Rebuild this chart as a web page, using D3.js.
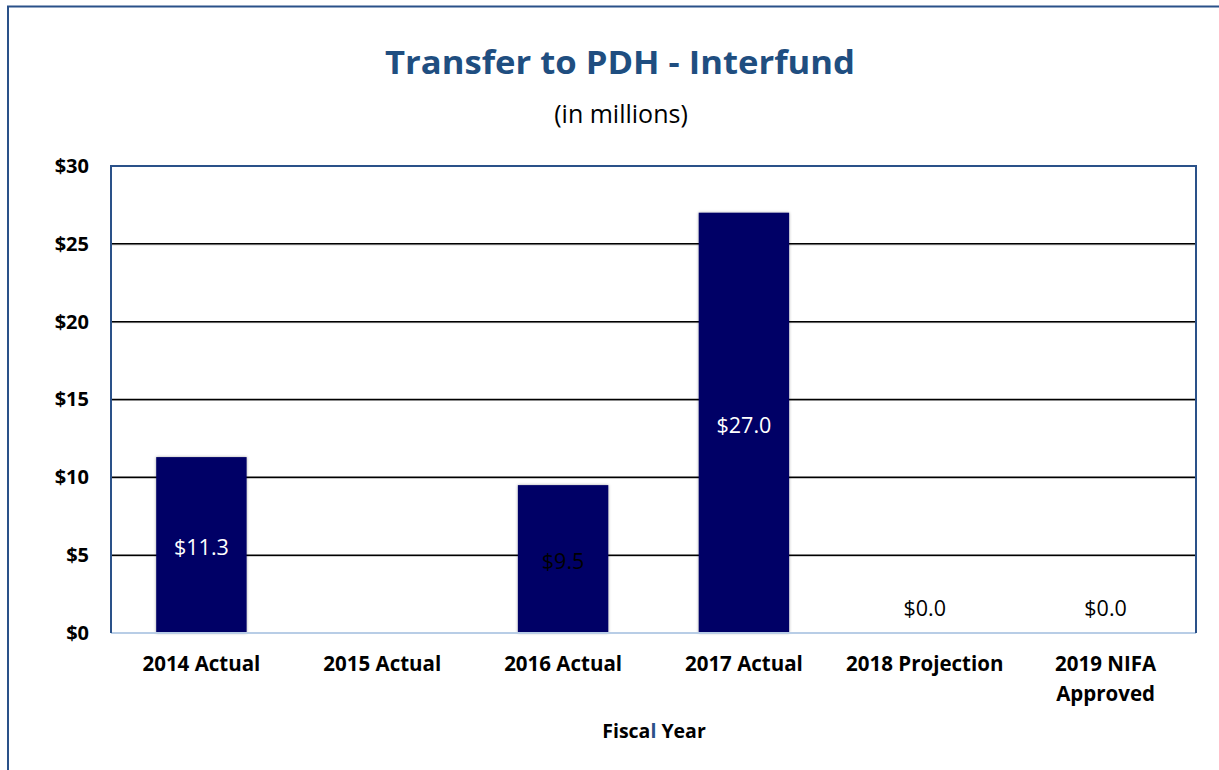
<!DOCTYPE html>
<html>
<head>
<meta charset="utf-8">
<script src="https://cdn.jsdelivr.net/npm/d3@7"></script>
<style>
  html, body { margin: 0; padding: 0; background: #fff; }
  svg { display: block; }
  text { font-family: "Open Sans", "Noto Sans", sans-serif; }
</style>
</head>
<body>
<svg id="chart" width="1219" height="770"></svg>
<script>
const categories = ["2014 Actual", "2015 Actual", "2016 Actual", "2017 Actual", "2018 Projection", "2019 NIFA Approved"];
const values = [11.3, null, 9.5, 27.0, 0.0, 0.0];
const labelColors = ["#ffffff", null, "#000000", "#ffffff", "#000000", "#000000"];
const yTicks = [0, 5, 10, 15, 20, 25, 30];

const svg = d3.select("#chart");
const W = 1219, H = 770;
const m = { left: 111, top: 166, right: 1196, bottom: 633 };

// outer frame
svg.append("rect").attr("x", 8).attr("y", 6.5).attr("width", W + 20).attr("height", H + 20)
  .attr("fill", "none").attr("stroke", "#2a5189").attr("stroke-width", 2);

// title
svg.append("text").attr("x", 620).attr("y", 74).attr("text-anchor", "middle")
  .attr("font-size", 32).attr("font-weight", "bold").attr("fill", "#1f4e80")
  .attr("textLength", 470).attr("lengthAdjust", "spacingAndGlyphs")
  .text("Transfer to PDH - Interfund");
svg.append("text").attr("x", 621).attr("y", 123).attr("text-anchor", "middle")
  .attr("font-size", 25).attr("fill", "#000")
  .text("(in millions)");

const x = d3.scaleBand().domain(categories).range([m.left, m.right]).paddingInner(0.5).paddingOuter(0.25);
const y = d3.scaleLinear().domain([0, 30]).range([m.bottom, m.top]);

// gridlines
const grid = svg.append("g");
yTicks.filter(t => t > 0 && t < 30).forEach(t => {
  grid.append("line").attr("x1", m.left).attr("x2", m.right)
    .attr("y1", y(t) + 1).attr("y2", y(t) + 1).attr("stroke", "#bbb").attr("stroke-width", 1);
  grid.append("line").attr("x1", m.left).attr("x2", m.right)
    .attr("y1", y(t)).attr("y2", y(t)).attr("stroke", "#000").attr("stroke-width", 1.5);
});

// bars
const data = categories.map((c, i) => ({ c, v: values[i], col: labelColors[i] }));
const shadow = svg.append("defs").append("filter").attr("id", "sh").attr("x", "-10%").attr("y", "-10%").attr("width", "120%").attr("height", "120%");
shadow.append("feDropShadow").attr("dx", 0).attr("dy", 0).attr("stdDeviation", 1.5).attr("flood-color", "#000").attr("flood-opacity", 0.35);

svg.append("g").selectAll("rect").data(data.filter(d => d.v !== null && d.v > 0)).join("rect")
  .attr("x", d => x(d.c)).attr("width", x.bandwidth())
  .attr("y", d => y(d.v)).attr("height", d => y(0) - y(d.v))
  .attr("fill", "#000066").attr("filter", "url(#sh)");

// value labels
svg.append("g").selectAll("text").data(data.filter(d => d.v !== null)).join("text")
  .attr("x", d => x(d.c) + x.bandwidth() / 2)
  .attr("y", d => d.v > 0 ? (y(d.v) + y(0)) / 2 + 10 : y(0) - 17)
  .attr("text-anchor", "middle").attr("font-size", 21.5).attr("fill", d => d.col)
  .text(d => "$" + d3.format(".1f")(d.v));

// plot frame
svg.append("line").attr("x1", m.left).attr("x2", m.right).attr("y1", m.bottom).attr("y2", m.bottom)
  .attr("stroke", "#b8cde6").attr("stroke-width", 2);
svg.append("path").attr("d", `M${m.left},${m.bottom}V${m.top}H${m.right}V${m.bottom}`)
  .attr("fill", "none").attr("stroke", "#2a5189").attr("stroke-width", 2);

// y axis labels
const yAxis = d3.axisLeft(y).tickValues(yTicks).tickSize(0).tickPadding(22).tickFormat(d => "$" + d);
const ya = svg.append("g").attr("transform", `translate(${m.left},0)`).call(yAxis);
ya.select(".domain").remove();
ya.selectAll("text").attr("font-size", 20).attr("font-weight", "bold").attr("fill", "#000")
  .style("font-family", "'Open Sans', sans-serif");

// x axis labels
const xa = svg.append("g").attr("transform", `translate(0,${m.bottom})`)
  .call(d3.axisBottom(x).tickSize(0).tickPadding(0).tickFormat(""));
xa.select(".domain").remove();
const xl = svg.append("g");
categories.forEach(c => {
  const cx = x(c) + x.bandwidth() / 2;
  const t = xl.append("text").attr("x", cx).attr("y", 671).attr("text-anchor", "middle")
    .attr("font-size", 20.5).attr("font-weight", "bold").attr("fill", "#000");
  if (c === "2019 NIFA Approved") {
    t.append("tspan").attr("x", cx).attr("dy", 0).text("2019 NIFA");
    t.append("tspan").attr("x", cx).attr("dy", 30).text("Approved");
  } else {
    t.text(c);
  }
});

// x axis title
const xt = svg.append("text").attr("x", 654).attr("y", 738).attr("text-anchor", "middle")
  .attr("font-size", 19.5).attr("font-weight", "bold").attr("fill", "#000");
xt.append("tspan").text("Fisca");
xt.append("tspan").attr("fill", "#2a5189").text("l");
xt.append("tspan").text(" Year");
</script>
</body>
</html>
